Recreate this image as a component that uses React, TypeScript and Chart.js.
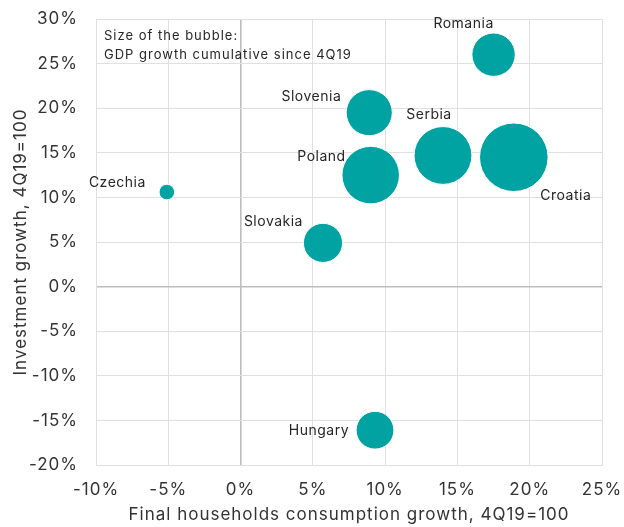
import React, { useEffect, useRef } from 'react';
import { Chart, registerables } from 'chart.js';

Chart.register(...registerables);

const countries = ['Romania', 'Slovenia', 'Serbia', 'Croatia', 'Poland', 'Czechia', 'Slovakia', 'Hungary'];
const consumptionGrowth = [17.5, 8.9, 14.0, 18.9, 9.0, -5.1, 5.7, 9.3];
const investmentGrowth = [26.0, 19.5, 14.7, 14.5, 12.5, 10.6, 4.9, -16.1];
const gdpGrowth = [5.4, 6.1, 9.6, 13.5, 9.5, 0.7, 4.4, 4.1];

const xMin = -10, xMax = 25, yMin = -20, yMax = 30, tickStep = 5;
const noteLines = ['Size of the bubble:', 'GDP growth cumulative since 4Q19'];
const xTitle = 'Final households consumption growth, 4Q19=100';
const yTitle = 'Investment growth, 4Q19=100';

// label placement relative to the bubble centre (pixels)
const labelPlacement: { dx: number; dy: number; align: CanvasTextAlign }[] = [
  { dx: -30, dy: -31, align: 'center' },
  { dx: -28, dy: -16, align: 'right' },
  { dx: -14, dy: -41, align: 'center' },
  { dx: 52, dy: 39, align: 'center' },
  { dx: -25, dy: -18, align: 'right' },
  { dx: -21, dy: -9, align: 'right' },
  { dx: -20, dy: -21, align: 'right' },
  { dx: -26, dy: 1, align: 'right' },
];

const FONT = 'Inter, "Noto Sans", sans-serif';
const TEAL = '#00A3A1';
const TEXT = '#333333';

const spacingPlugin = {
  id: 'letterSpacing',
  beforeUpdate(chart: any) {
    chart.ctx.letterSpacing = '1px';
  },
  beforeDraw(chart: any) {
    chart.ctx.letterSpacing = '1px';
  },
};

const labelsPlugin = {
  id: 'bubbleLabels',
  afterDatasetsDraw(chart: any) {
    const ctx = chart.ctx;
    const meta = chart.getDatasetMeta(0);
    ctx.save();
    ctx.letterSpacing = '0.5px';
    ctx.font = `14px ${FONT}`;
    ctx.fillStyle = '#262626';
    ctx.textBaseline = 'middle';
    meta.data.forEach((el: any, i: number) => {
      const p = labelPlacement[i];
      ctx.textAlign = p.align;
      ctx.fillText(countries[i], el.x + p.dx, el.y + p.dy);
    });
    const a = chart.chartArea;
    ctx.letterSpacing = '1px';
    ctx.font = `13px ${FONT}`;
    ctx.textAlign = 'left';
    noteLines.forEach((t, i) => ctx.fillText(t, a.left + 8, a.top + 17 + i * 19));
    ctx.restore();
  },
};

export default function App() {
  const ref = useRef<HTMLCanvasElement>(null);
  useEffect(() => {
    document.body.style.margin = '0';
    const data = countries.map((_, i) => ({
      x: consumptionGrowth[i],
      y: investmentGrowth[i],
      r: 9.33 * Math.sqrt(gdpGrowth[i]),
    }));
    const isZero = (c: any) => c.tick && c.tick.value === 0;
    const gridColor = (c: any) => (isZero(c) ? '#BDBDBD' : '#E0E0E0');
    const gridWidth = (c: any) => (isZero(c) ? 1.6 : 1);
    const chart = new Chart(ref.current!, {
      type: 'bubble',
      data: {
        datasets: [
          {
            data,
            backgroundColor: TEAL,
            borderColor: '#FFFFFF',
            borderWidth: 1,
            hoverBackgroundColor: TEAL,
          },
        ],
      },
      options: {
        animation: false,
        responsive: false,
        layout: { autoPadding: false, padding: { top: 19, right: 22, bottom: 0, left: 0 } },
        plugins: { legend: { display: false }, tooltip: { enabled: false } },
        scales: {
          x: {
            type: 'linear',
            min: xMin,
            max: xMax,
            afterFit: (s: any) => {
              s.height = 62;
            },
            grid: { color: gridColor, lineWidth: gridWidth, drawTicks: true, tickLength: 14, tickColor: 'rgba(0,0,0,0)' },
            border: { color: '#E0E0E0' },
            ticks: {
              stepSize: tickStep,
              padding: 1,
              color: TEXT,
              font: { family: FONT, size: 17 },
              callback: (v: any) => `${v}%`,
            },
            title: {
              display: true,
              text: xTitle,
              color: TEXT,
              font: { family: FONT, size: 17 },
              padding: { top: 0, bottom: 2 },
            },
          },
          y: {
            type: 'linear',
            min: yMin,
            max: yMax,
            afterFit: (s: any) => {
              s.width = 96;
            },
            grid: { color: gridColor, lineWidth: gridWidth, drawTicks: true, tickLength: 17, tickColor: 'rgba(0,0,0,0)' },
            border: { color: '#E0E0E0' },
            ticks: {
              stepSize: tickStep,
              padding: 1,
              color: TEXT,
              font: { family: FONT, size: 17 },
              callback: (v: any) => `${v}%`,
            },
            title: {
              display: true,
              text: yTitle,
              color: TEXT,
              font: { family: FONT, size: 17 },
              padding: { top: 11, bottom: 0 },
            },
          },
        },
      },
      plugins: [spacingPlugin, labelsPlugin],
    });
    return () => chart.destroy();
  }, []);
  return <canvas ref={ref} width={624} height={527} style={{ display: 'block' }} />;
}
